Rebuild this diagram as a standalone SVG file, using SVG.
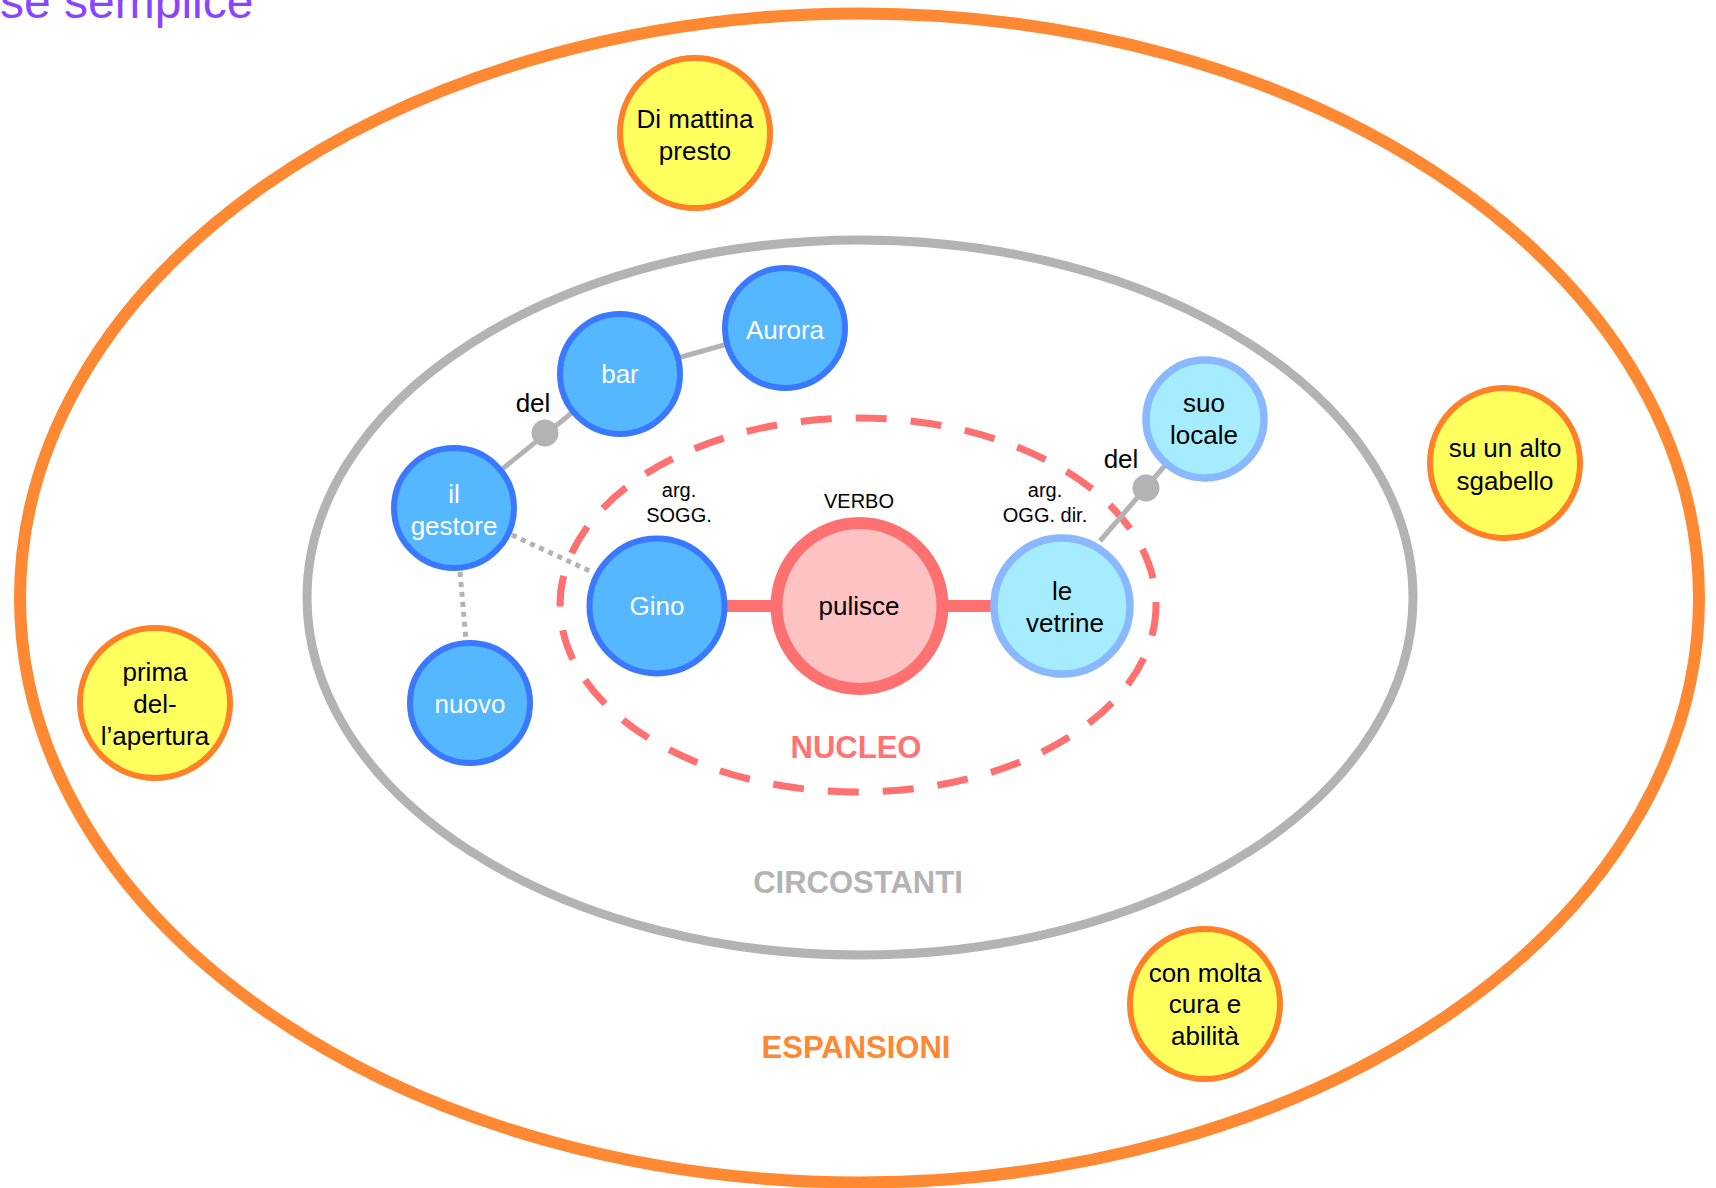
<svg xmlns="http://www.w3.org/2000/svg" width="1716" height="1188" viewBox="0 0 1716 1188">
  <style>
    text { font-family: "Liberation Sans", Arial, sans-serif; text-anchor: middle; }
    .lbl { font-size: 26px; fill: #000; }
    .wlbl { font-size: 26px; fill: #fff; }
    .small { font-size: 20px; fill: #000; }
    .zone { font-size: 31px; font-weight: bold; }
    .exp { fill: #ffff5e; stroke: #ff8026; stroke-width: 6; }
    .arg { fill: #55b7ff; stroke: #3a78ff; stroke-width: 6; }
    .obj { fill: #a6ecff; stroke: #8ab8ff; stroke-width: 7.5; }
    .link { stroke: #b3b3b3; stroke-width: 5; fill: none; }
    .dotted { stroke: #b3b3b3; stroke-width: 5; stroke-dasharray: 5 5; fill: none; }
    .core { stroke: #ff7070; stroke-width: 12; fill: none; }
    .hub { fill: #b3b3b3; }
  </style>

  <!-- title -->
  <text x="0" y="18" style="text-anchor:start; font-size:48px; fill:#8844ff">se semplice</text>

  <!-- nested zones -->
  <g id="zone-espansioni">
    <ellipse cx="859.5" cy="598" rx="839.5" ry="584.5" fill="none" stroke="#ff8833" stroke-width="12"/>
    <text class="zone" x="856" y="1058" fill="#ff8833">ESPANSIONI</text>
  </g>
  <g id="zone-circostanti">
    <ellipse cx="860" cy="597.5" rx="553" ry="357.5" fill="none" stroke="#b3b3b3" stroke-width="9"/>
    <text class="zone" x="858" y="893" fill="#b3b3b3">CIRCOSTANTI</text>
  </g>
  <g id="zone-nucleo">
    <ellipse cx="858" cy="605" rx="298" ry="187" fill="none" stroke="#ff7070" stroke-width="7" stroke-dasharray="31 24"/>
    <text class="zone" x="856" y="758" fill="#ff7373">NUCLEO</text>
  </g>

  <!-- connectors -->
  <g id="connectors">
    <line class="link" x1="454" y1="508" x2="620" y2="374"/>
    <line class="link" x1="620" y1="374" x2="785" y2="328"/>
    <line class="link" x1="1100" y1="541" x2="1205" y2="419"/>
    <line class="dotted" x1="512" y1="535" x2="592" y2="572"/>
    <line class="dotted" x1="460" y1="572" x2="466" y2="640"/>
    <line class="core" x1="725" y1="606" x2="776" y2="606"/>
    <line class="core" x1="943" y1="606" x2="994" y2="606"/>
    <circle class="hub" cx="545" cy="433" r="13.5"/>
    <text class="lbl" x="533" y="412">del</text>
    <circle class="hub" cx="1146" cy="488" r="13.5"/>
    <text class="lbl" x="1121" y="468">del</text>
  </g>

  <!-- expansions -->
  <g id="node-di-mattina">
    <circle class="exp" cx="695" cy="133" r="75"/>
    <text class="lbl" x="695" y="128">Di mattina</text>
    <text class="lbl" x="695" y="160">presto</text>
  </g>
  <g id="node-sgabello">
    <circle class="exp" cx="1505" cy="463" r="75"/>
    <text class="lbl" x="1505" y="457">su un alto</text>
    <text class="lbl" x="1505" y="490">sgabello</text>
  </g>
  <g id="node-apertura">
    <circle class="exp" cx="155" cy="703" r="75"/>
    <text class="lbl" x="155" y="681">prima</text>
    <text class="lbl" x="155" y="713">del-</text>
    <text class="lbl" x="155" y="745">l’apertura</text>
  </g>
  <g id="node-cura">
    <circle class="exp" cx="1205" cy="1004" r="75"/>
    <text class="lbl" x="1205" y="982">con molta</text>
    <text class="lbl" x="1205" y="1013">cura e</text>
    <text class="lbl" x="1205" y="1045">abilità</text>
  </g>

  <!-- circumstantials -->
  <g id="node-bar">
    <circle class="arg" cx="620" cy="374" r="60"/>
    <text class="wlbl" x="620" y="383">bar</text>
  </g>
  <g id="node-aurora">
    <circle class="arg" cx="785" cy="328" r="60"/>
    <text class="wlbl" x="785" y="339">Aurora</text>
  </g>
  <g id="node-gestore">
    <circle class="arg" cx="454" cy="508" r="60"/>
    <text class="wlbl" x="454" y="503">il</text>
    <text class="wlbl" x="454" y="535">gestore</text>
  </g>
  <g id="node-nuovo">
    <circle class="arg" cx="470" cy="703" r="60"/>
    <text class="wlbl" x="470" y="713">nuovo</text>
  </g>
  <g id="node-suo-locale">
    <circle class="obj" cx="1205" cy="419" r="59"/>
    <text class="lbl" x="1204" y="412">suo</text>
    <text class="lbl" x="1204" y="444">locale</text>
  </g>

  <!-- core -->
  <g id="node-gino">
    <text class="small" x="679" y="497">arg.</text>
    <text class="small" x="679" y="522">SOGG.</text>
    <circle class="arg" cx="657" cy="606" r="67.5" stroke-width="7.5"/>
    <text class="wlbl" x="657" y="615">Gino</text>
  </g>
  <g id="node-pulisce">
    <text class="small" x="859" y="508">VERBO</text>
    <circle cx="859.5" cy="606" r="83" fill="#ffc2c2" stroke="#ff7070" stroke-width="12"/>
    <text class="lbl" x="859" y="615">pulisce</text>
  </g>
  <g id="node-vetrine">
    <text class="small" x="1045" y="497">arg.</text>
    <text class="small" x="1045" y="522">OGG. dir.</text>
    <circle class="obj" cx="1062" cy="606" r="68"/>
    <text class="lbl" x="1062" y="600">le</text>
    <text class="lbl" x="1065" y="632">vetrine</text>
  </g>
</svg>
